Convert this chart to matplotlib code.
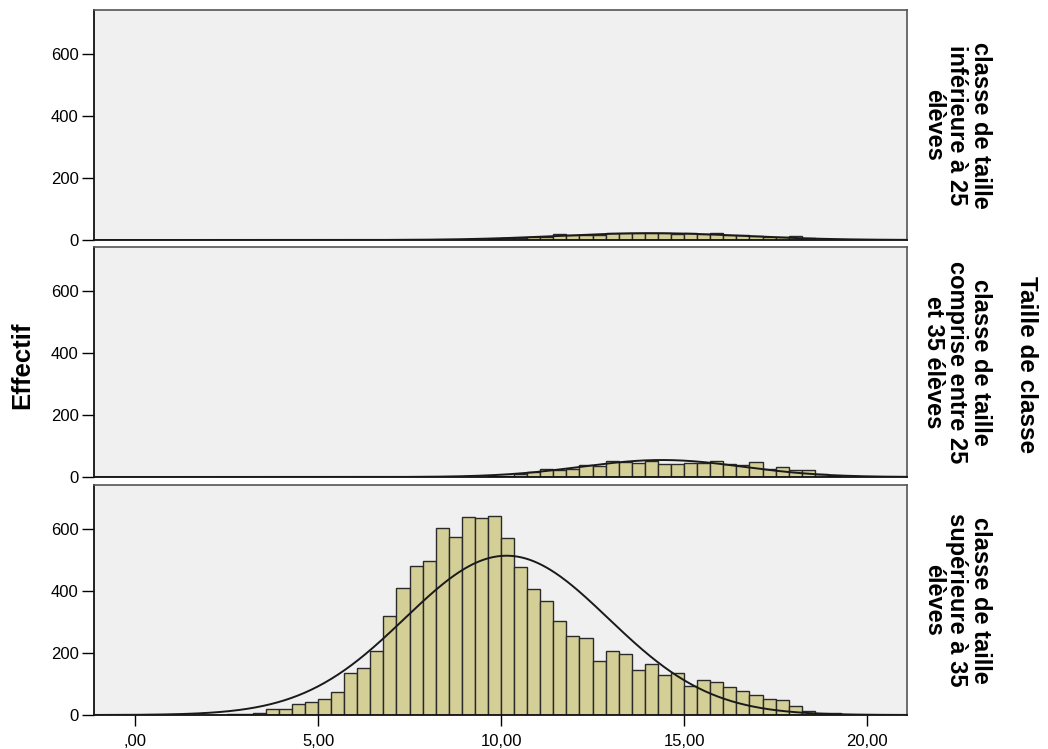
import numpy as np
import matplotlib.pyplot as plt

plt.rcParams['font.family'] = ['Liberation Sans', 'DejaVu Sans']

# histogram bins: width 5/14, bin k starts at k * bin_width
bin_width = 5 / 14

groups = ["classe de taille\ninférieure à 25\nélèves",
          "classe de taille\ncomprise entre 25\net 35 élèves",
          "classe de taille\nsupérieure à 35\nélèves"]

first_bin_small = 26
counts_small = [1, 2, 5, 5, 9, 11, 20, 17, 16, 17, 22, 22, 22, 22, 22, 20,
                22, 20, 24, 17, 16, 14, 11, 11, 14, 5]

first_bin_mid = 26
counts_mid = [1, 2, 4, 10, 16, 27, 22, 27, 38, 34, 51, 47, 44, 52, 42, 42,
              46, 46, 53, 42, 38, 50, 25, 31, 22, 21, 11, 2]

first_bin_large = 6
counts_large = [1, 2, 3, 5, 18, 20, 37, 42, 51, 75, 134, 152, 208, 319, 410,
                480, 496, 602, 575, 639, 635, 641, 572, 476, 405, 368, 304,
                256, 250, 175, 208, 198, 145, 163, 129, 134, 94, 112, 106, 90,
                79, 64, 53, 49, 29, 12, 5, 5, 1]

# fitted normal curves (mean, std dev)
means = [14.1, 14.4, 10.15]
sds = [2.5, 2.2, 2.78]

x_ticks = [0, 5, 10, 15, 20]
x_tick_labels = [",00", "5,00", "10,00", "15,00", "20,00"]
y_ticks = [0, 200, 400, 600]

bar_color = "#d4cf97"
panel_bg = "#f0f0f0"


def draw_panel(ax, first_bin, counts, mean, sd, label, bottom):
    counts = np.array(counts)
    starts = (first_bin + np.arange(len(counts))) * bin_width
    ax.bar(starts, counts, width=bin_width, align="edge", color=bar_color,
           edgecolor="#2a2a2a", linewidth=1.0, zorder=2)

    xs = np.linspace(-1.12, 21.09, 600)
    n = counts.sum()
    ys = n * bin_width / (sd * np.sqrt(2 * np.pi)) * np.exp(-(xs - mean) ** 2 / (2 * sd ** 2))
    ax.plot(xs, ys, color="#1a1a1a", linewidth=1.4, zorder=3)

    ax.set_facecolor(panel_bg)
    ax.set_xlim(-1.12, 21.09)
    ax.set_ylim(0, 742)
    ax.set_yticks(y_ticks)
    ax.tick_params(axis="y", direction="out", length=9, width=1, labelsize=12, pad=2)
    for side in ["top", "right"]:
        ax.spines[side].set_color("#555555")
        ax.spines[side].set_linewidth(1.2)
    for side in ["left", "bottom"]:
        ax.spines[side].set_color("#111111")
        ax.spines[side].set_linewidth(1.3)

    if bottom:
        ax.set_xticks(x_ticks)
        ax.set_xticklabels(x_tick_labels)
        ax.tick_params(axis="x", direction="out", length=8, width=1, labelsize=12, pad=6)
    else:
        ax.set_xticks([])

    ax.text(1.0615, 0.5, label, transform=ax.transAxes, rotation=270,
            ha="center", va="center", fontsize=17, fontweight="bold",
            linespacing=1.02, multialignment="center")


fig = plt.figure(figsize=(10.48, 7.49), dpi=100)

left = 94 / 1048
width = (907 - 94) / 1048
tops = [10, 247, 485]
height = 230 / 749

data = [(first_bin_small, counts_small), (first_bin_mid, counts_mid),
        (first_bin_large, counts_large)]

for i in range(3):
    ax = fig.add_axes([left, 1 - (tops[i] + 230) / 749, width, height])
    draw_panel(ax, data[i][0], data[i][1], means[i], sds[i], groups[i], i == 2)

fig.text(22 / 1048, 1 - 365 / 749, "Effectif", rotation=90, ha="center",
         va="center", fontsize=18.5, fontweight="bold")
fig.text(1026 / 1048, 1 - 365 / 749, "Taille de classe", rotation=270,
         ha="center", va="center", fontsize=17.5, fontweight="bold")

fig.savefig("out.png", dpi=100)
